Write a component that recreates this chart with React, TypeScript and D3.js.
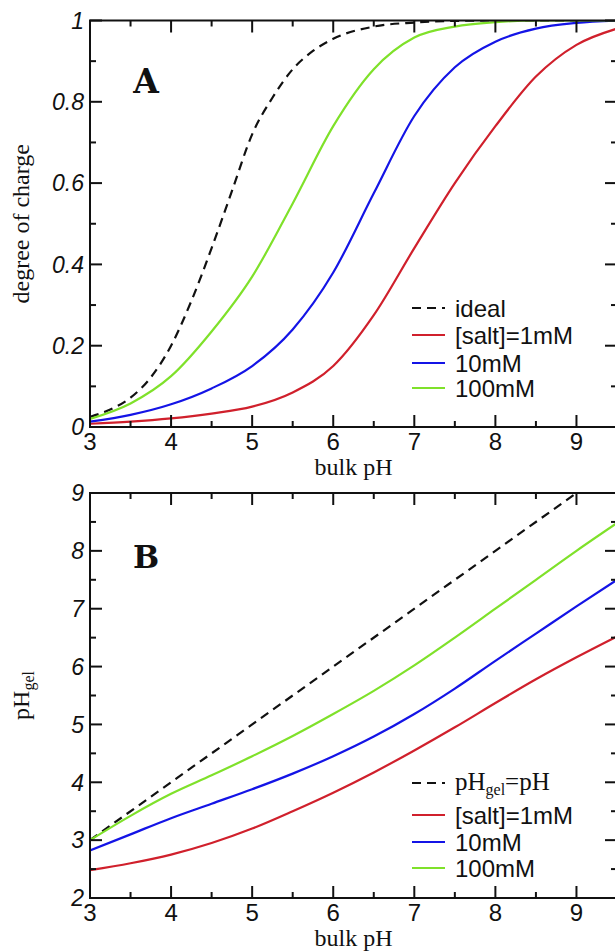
import React from "react";
import * as d3 from "d3";

// ---------- data ----------
// Panel A: degree of charge vs bulk pH
const idealA_pH = [3.0, 3.25, 3.5, 3.75, 4.0, 4.25, 4.5, 4.75, 5.0, 5.25, 5.5, 5.75, 6.0, 6.5, 7.0, 7.5, 8.0, 9.5];
const idealA_val = [0.025, 0.043, 0.072, 0.122, 0.2, 0.31, 0.44, 0.58, 0.72, 0.81, 0.88, 0.925, 0.955, 0.985, 0.995, 0.999, 1.0, 1.0];

const pHgrid = [3.0, 3.5, 4.0, 4.5, 5.0, 5.5, 6.0, 6.5, 7.0, 7.5, 8.0, 8.5, 9.0, 9.5];
const chargeSalt1 = [0.008, 0.013, 0.021, 0.033, 0.05, 0.085, 0.15, 0.275, 0.44, 0.6, 0.74, 0.862, 0.94, 0.98];
const chargeSalt10 = [0.013, 0.03, 0.056, 0.095, 0.15, 0.24, 0.38, 0.575, 0.765, 0.885, 0.948, 0.98, 0.994, 1.0];
const chargeSalt100 = [0.02, 0.058, 0.125, 0.235, 0.37, 0.55, 0.74, 0.88, 0.958, 0.985, 0.996, 1.0, 1.0, 1.0];

// Panel B: pH inside the gel vs bulk pH
const idealB_pH = [3.0, 9.0];
const idealB_val = [3.0, 9.0];
const pHgelSalt1 = [2.48, 2.6, 2.75, 2.95, 3.2, 3.5, 3.82, 4.17, 4.55, 4.95, 5.37, 5.78, 6.16, 6.52];
const pHgelSalt10 = [2.82, 3.1, 3.38, 3.63, 3.88, 4.15, 4.45, 4.79, 5.18, 5.62, 6.1, 6.57, 7.04, 7.5];
const pHgelSalt100 = [3.0, 3.42, 3.8, 4.12, 4.45, 4.8, 5.18, 5.58, 6.02, 6.5, 7.0, 7.5, 8.0, 8.48];

const xTicks = [3, 4, 5, 6, 7, 8, 9];
const yTicksA = [0, 0.2, 0.4, 0.6, 0.8, 1];
const yTickLabelsA = ["0", "0.2", "0.4", "0.6", "0.8", "1"];
const yTicksB = [2, 3, 4, 5, 6, 7, 8, 9];

const seriesNames = ["[salt]=1mM", "10mM", "100mM"];
const seriesColors = ["#d0202c", "#1414e6", "#7fe12a"];

// ---------- layout ----------
const W = 615;
const H = 951;
const LEFT = 90;
const RIGHT = 617;
const A_TOP = 20.5;
const A_BOT = 427;
const B_TOP = 493;
const B_BOT = 898;

const SANS = "'Liberation Sans', Arial, Helvetica, sans-serif";
const SERIF = "'Liberation Serif', 'Times New Roman', serif";
const SLAB = "'DejaVu Serif', 'Courier New', serif";

const x = d3.scaleLinear().domain([3, 9.5]).range([LEFT, RIGHT]);
const yA = d3.scaleLinear().domain([0, 1]).range([A_BOT, A_TOP]);
const yB = d3.scaleLinear().domain([2, 9]).range([B_BOT, B_TOP]);

function mkLine(xs: number[], ys: number[], ys2: d3.ScaleLinear<number, number>) {
  const pts = xs.map((v, i) => [v, ys[i]] as [number, number]);
  return d3
    .line<[number, number]>()
    .x((d) => x(d[0]))
    .y((d) => ys2(d[1]))
    .curve(d3.curveMonotoneX)(pts) as string;
}

function Frame({ y, top, bot, yMinor, yMajor }: any) {
  const xMinor = d3.range(3.5, 9.51, 1);
  const els: any[] = [];
  const MAJ = 12;
  const MIN = 6;
  xTicks.forEach((t, i) => {
    els.push(<line key={"xb" + i} x1={x(t)} x2={x(t)} y1={bot} y2={bot - MAJ} />);
    els.push(<line key={"xt" + i} x1={x(t)} x2={x(t)} y1={top} y2={top + MAJ} />);
  });
  xMinor.forEach((t, i) => {
    els.push(<line key={"xbm" + i} x1={x(t)} x2={x(t)} y1={bot} y2={bot - MIN} />);
    els.push(<line key={"xtm" + i} x1={x(t)} x2={x(t)} y1={top} y2={top + MIN} />);
  });
  yMajor.forEach((t: number, i: number) => {
    els.push(<line key={"yl" + i} x1={LEFT} x2={LEFT + MAJ} y1={y(t)} y2={y(t)} />);
    els.push(<line key={"yr" + i} x1={RIGHT} x2={RIGHT - MAJ} y1={y(t)} y2={y(t)} />);
  });
  yMinor.forEach((t: number, i: number) => {
    els.push(<line key={"ylm" + i} x1={LEFT} x2={LEFT + MIN} y1={y(t)} y2={y(t)} />);
    els.push(<line key={"yrm" + i} x1={RIGHT} x2={RIGHT - MIN} y1={y(t)} y2={y(t)} />);
  });
  return (
    <g stroke="#111" strokeWidth={2} fill="none">
      <rect x={LEFT} y={top} width={RIGHT - LEFT} height={bot - top} />
      {els}
    </g>
  );
}

function XLabels({ bot }: { bot: number }) {
  return (
    <g fontFamily={SANS} fontSize={24} fill="#111" textAnchor="middle">
      {xTicks.map((t) => (
        <text key={t} x={x(t)} y={bot + 23}>
          {t}
        </text>
      ))}
      <text x={(LEFT + RIGHT) / 2} y={bot + 48} fontFamily={SERIF} fontSize={24}>
        bulk pH
      </text>
    </g>
  );
}

export default function App() {
  const aMinor = d3.range(0.1, 1, 0.2);
  const bMinor = d3.range(2.5, 9, 1);
  const legendA = { x1: 412, x2: 445, tx: 455, ys: [308, 335, 363, 388] };
  const legendB = { x1: 412, x2: 445, tx: 455, ys: [783, 815, 842, 868] };
  const aSeries = [chargeSalt1, chargeSalt10, chargeSalt100];
  const bSeries = [pHgelSalt1, pHgelSalt10, pHgelSalt100];

  return (
    <svg
      width={W}
      height={H}
      viewBox={`0 0 ${W} ${H}`}
      style={{ position: "absolute", left: 0, top: 0, background: "#fff" }}
    >
      <defs>
        <clipPath id="clipA">
          <rect x={LEFT} y={A_TOP} width={RIGHT - LEFT} height={A_BOT - A_TOP} />
        </clipPath>
        <clipPath id="clipB">
          <rect x={LEFT} y={B_TOP} width={RIGHT - LEFT} height={B_BOT - B_TOP} />
        </clipPath>
      </defs>
      <rect width={W} height={H} fill="#fff" />

      {/* ---------------- Panel A ---------------- */}
      <g clipPath="url(#clipA)" fill="none" strokeWidth={2.2}>
        <path d={mkLine(idealA_pH, idealA_val, yA)} stroke="#111" strokeDasharray="9,6" />
        {aSeries.map((s, i) => (
          <path key={i} d={mkLine(pHgrid, s, yA)} stroke={seriesColors[i]} />
        ))}
      </g>
      <Frame y={yA} top={A_TOP} bot={A_BOT} yMajor={yTicksA} yMinor={aMinor} />
      <g fontFamily={SANS} fontSize={23} fontStyle="italic" fill="#111" textAnchor="end">
        {yTicksA.map((t, i) => (
          <text key={t} x={84} y={yA(t)} dy="0.36em">
            {yTickLabelsA[i]}
          </text>
        ))}
      </g>
      <XLabels bot={A_BOT} />
      <text
        transform={`translate(29, ${(A_TOP + A_BOT) / 2}) rotate(-90)`}
        textAnchor="middle"
        fontFamily={SERIF}
        fontSize={24}
        fill="#111"
      >
        degree of charge
      </text>
      <text x={146} y={93} textAnchor="middle" fontFamily={SLAB} fontWeight="bold" fontSize={33} fill="#111">
        A
      </text>
      <g fontFamily={SANS} fontSize={24} fill="#111">
        <line x1={legendA.x1} x2={legendA.x2} y1={legendA.ys[0]} y2={legendA.ys[0]} stroke="#111" strokeWidth={2.2} strokeDasharray="9,6" />
        <text x={legendA.tx} y={legendA.ys[0] + 9}>ideal</text>
        {seriesNames.map((n, i) => (
          <g key={n}>
            <line x1={legendA.x1} x2={legendA.x2} y1={legendA.ys[i + 1]} y2={legendA.ys[i + 1]} stroke={seriesColors[i]} strokeWidth={2.2} />
            <text x={legendA.tx} y={legendA.ys[i + 1] + 9}>{n}</text>
          </g>
        ))}
      </g>

      {/* ---------------- Panel B ---------------- */}
      <g clipPath="url(#clipB)" fill="none" strokeWidth={2.2}>
        <path d={mkLine(idealB_pH, idealB_val, yB)} stroke="#111" strokeDasharray="9,6" />
        {bSeries.map((s, i) => (
          <path key={i} d={mkLine(pHgrid, s, yB)} stroke={seriesColors[i]} />
        ))}
      </g>
      <Frame y={yB} top={B_TOP} bot={B_BOT} yMajor={yTicksB} yMinor={bMinor} />
      <g fontFamily={SANS} fontSize={23} fontStyle="italic" fill="#111" textAnchor="end">
        {yTicksB.map((t) => (
          <text key={t} x={84} y={yB(t)} dy="0.36em">
            {t}
          </text>
        ))}
      </g>
      <XLabels bot={B_BOT} />
      <text
        transform={`translate(29, ${(B_TOP + B_BOT) / 2}) rotate(-90)`}
        textAnchor="middle"
        fontFamily={SERIF}
        fontSize={24}
        fill="#111"
      >
        pH
        <tspan fontSize={16} dy={5}>gel</tspan>
      </text>
      <text x={146} y={568} textAnchor="middle" fontFamily={SLAB} fontWeight="bold" fontSize={31} fill="#111">
        B
      </text>
      <g fill="#111">
        <line x1={legendB.x1} x2={legendB.x2} y1={legendB.ys[0]} y2={legendB.ys[0]} stroke="#111" strokeWidth={2.2} strokeDasharray="9,6" />
        <text x={legendB.tx} y={legendB.ys[0] + 7} fontFamily={SERIF} fontSize={25}>
          pH<tspan fontSize={16} dy={5}>gel</tspan>
          <tspan dy={-5}>=pH</tspan>
        </text>
        {seriesNames.map((n, i) => (
          <g key={n}>
            <line x1={legendB.x1} x2={legendB.x2} y1={legendB.ys[i + 1]} y2={legendB.ys[i + 1]} stroke={seriesColors[i]} strokeWidth={2.2} />
            <text x={legendB.tx} y={legendB.ys[i + 1] + 9} fontFamily={SANS} fontSize={24}>{n}</text>
          </g>
        ))}
      </g>
    </svg>
  );
}
